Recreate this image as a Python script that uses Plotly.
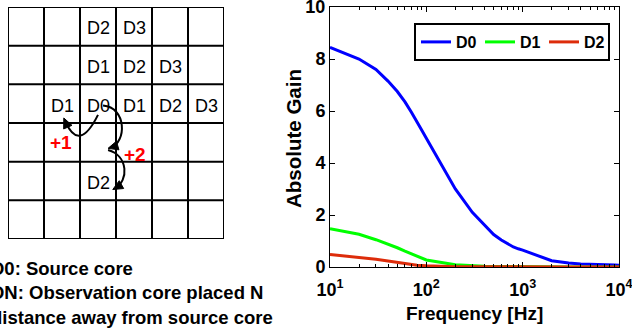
import math
import plotly.graph_objects as go

# ---------------- data ----------------
freq = [10, 20, 30, 40, 50, 60, 70, 80, 90, 100, 200, 300, 400, 500, 600, 700, 800, 900,
        1000, 2000, 3000, 4000, 5000, 6000, 7000, 8000, 9000, 10000]
gain_d0 = [8.45, 8.0, 7.6, 7.15, 6.75, 6.35, 5.95, 5.6, 5.25, 4.95, 3.0, 2.1, 1.6, 1.25, 1.04, 0.89,
           0.77, 0.7, 0.65, 0.24, 0.15, 0.12, 0.1, 0.09, 0.085, 0.08, 0.075, 0.07]
gain_d1 = [1.47, 1.26, 1.05, 0.89, 0.74, 0.61, 0.5, 0.41, 0.34, 0.27, 0.09, 0.04, 0.025, 0.018,
           0.014, 0.012, 0.01, 0.009, 0.008, 0.005, 0.004, 0.003, 0.003, 0.003, 0.003, 0.003, 0.003, 0.003]
gain_d2 = [0.48, 0.38, 0.3, 0.23, 0.17, 0.12, 0.09, 0.07, 0.055, 0.045, 0.012, 0.006, 0.004, 0.003,
           0.002, 0.002, 0.002, 0.002, 0.002, 0.001, 0.001, 0.001, 0.001, 0.001, 0.001, 0.001, 0.001, 0.001]
series_names = ["D0", "D1", "D2"]
series_colors = ["#0000FF", "#00FF00", "#DD2C0A"]

x_tickvals = [10, 100, 1000, 10000]
x_ticktext = ["10<sup>1</sup>", "10<sup>2</sup>", "10<sup>3</sup>", "10<sup>4</sup>"]
y_tickvals = [0, 2, 4, 6, 8, 10]

# diagram: 6x6 grid of cores, labels (row, col, text)
grid_n = 6
cell_labels = [(0, 2, "D2"), (0, 3, "D3"),
               (1, 2, "D1"), (1, 3, "D2"), (1, 4, "D3"),
               (2, 1, "D1"), (2, 2, "D0"), (2, 3, "D1"), (2, 4, "D2"), (2, 5, "D3"),
               (4, 2, "D2")]
step_labels = [(3.46, 1.47, "+1"), (3.75, 3.52, "+2")]
# hop arrows in grid units: svg path, arrow tip (col,row), tip direction in screen px (dx,dy)
hop_paths = [
    "M 2.5,2.79 Q 1.975,3.77 1.6,2.97",
    "M 2.64,2.55 C 3.3,2.6 3.3,3.5 2.85,3.63",
    "M 2.78,3.7 C 3.35,3.85 3.35,4.5 2.98,4.68",
]
hop_tips = [(1.55, 2.87, -0.4, -0.92), (2.78, 3.655, -0.96, 0.28), (2.91, 4.72, -0.87, 0.49)]
legend_lines = ["<b>D0: Source core</b>",
                "<b>DN: Observation core placed N</b>",
                "<b>distance away from source core</b>"]

W, H = 632, 329
def px_x(x):
    return x / W
def px_y(y):
    return 1 - y / H

FONT = "Liberation Sans, Arial, sans-serif"
CELL_W, CELL_H = 36.0, 38.7

fig = go.Figure()
for name, vals, col in zip(series_names, [gain_d0, gain_d1, gain_d2], series_colors):
    fig.add_trace(go.Scatter(x=freq, y=vals, mode="lines", name=name,
                             line=dict(color=col, width=3), xaxis="x", yaxis="y"))

shapes = []
for i in range(grid_n + 1):
    shapes.append(dict(type="line", xref="x2", yref="y2", x0=i, x1=i, y0=0, y1=grid_n,
                       line=dict(color="black", width=2)))
    shapes.append(dict(type="line", xref="x2", yref="y2", x0=0, x1=grid_n, y0=i, y1=i,
                       line=dict(color="black", width=2)))
for p in hop_paths:
    shapes.append(dict(type="path", xref="x2", yref="y2", path=p,
                       line=dict(color="black", width=2)))
for tx, ty, dx, dy in hop_tips:
    L, hw = 10.0, 4.5
    bx, by = -dx * L, -dy * L
    pxp, pyp = -dy * hw, dx * hw
    p1 = (tx + (bx + pxp) / CELL_W, ty + (by + pyp) / CELL_H)
    p2 = (tx + (bx - pxp) / CELL_W, ty + (by - pyp) / CELL_H)
    path = "M %.4f,%.4f L %.4f,%.4f L %.4f,%.4f Z" % (tx, ty, p1[0], p1[1], p2[0], p2[1])
    shapes.append(dict(type="path", xref="x2", yref="y2", path=path, fillcolor="black",
                       line=dict(color="black", width=1)))

annotations = []
for r, c, t in cell_labels:
    annotations.append(dict(x=c + 0.5, y=r + 0.5, xref="x2", yref="y2", text=t, yshift=-2,
                            showarrow=False, font=dict(family=FONT, size=18, color="black")))
for r, c, t in step_labels:
    annotations.append(dict(x=c, y=r, xref="x2", yref="y2", text="<b>%s</b>" % t, yshift=-2,
                            showarrow=False, font=dict(family=FONT, size=19, color="#FF0000")))
for i, t in enumerate(legend_lines):
    annotations.append(dict(x=0, y=px_y(268 + 24.5 * i), xref="paper", yref="paper", xshift=-11,
                            xanchor="left", yanchor="middle", text=t, showarrow=False,
                            font=dict(family=FONT, size=18.5, color="black")))
annotations.append(dict(x=px_x(293), y=px_y(139), xref="paper", yref="paper", text="<b>Absolute Gain</b>",
                        textangle=-90, showarrow=False, xanchor="center", yanchor="middle",
                        font=dict(family=FONT, size=20.5, color="black")))
annotations.append(dict(x=px_x(474), y=px_y(313), xref="paper", yref="paper", text="<b>Frequency [Hz]</b>",
                        showarrow=False, xanchor="center", yanchor="middle",
                        font=dict(family=FONT, size=19, color="black")))

minor_vals = [m * 10 ** k for k in range(1, 4) for m in range(2, 10)]

fig.update_layout(
    width=W, height=H, margin=dict(l=0, r=0, t=0, b=0, autoexpand=False),
    paper_bgcolor="white", plot_bgcolor="white",
    font=dict(family=FONT, color="black"),
    xaxis=dict(type="log", range=[1, 4], domain=[px_x(330), px_x(619)], anchor="y",
               tickvals=x_tickvals, ticktext=x_ticktext, ticks="inside", ticklen=5,
               tickcolor="black", showline=True, linecolor="black", linewidth=1, mirror="ticks",
               showgrid=False, zeroline=False, ticklabeloverflow="allow", ticklabelstandoff=6,
               automargin=False,
               tickfont=dict(family=FONT, size=18, color="black", weight="bold"),
               minor=dict(tickvals=minor_vals, ticks="inside", ticklen=3, tickcolor="black",
                          showgrid=False)),
    yaxis=dict(range=[0, 10], domain=[px_y(267), px_y(7)], anchor="x",
               tickvals=y_tickvals, ticks="inside", ticklen=5, tickcolor="black",
               showline=True, linecolor="black", linewidth=1, mirror="ticks",
               showgrid=False, zeroline=False, ticklabeloverflow="allow", automargin=False,
               tickfont=dict(family=FONT, size=18, color="black", weight="bold")),
    xaxis2=dict(range=[0, grid_n], domain=[px_x(8), px_x(224)], anchor="y2", visible=False,
                automargin=False),
    yaxis2=dict(range=[grid_n, 0], domain=[px_y(239), px_y(7)], anchor="x2", visible=False,
                automargin=False),
    shapes=shapes, annotations=annotations,
    legend=dict(orientation="h", x=px_x(610), xanchor="right", y=px_y(23), yanchor="top",
                bordercolor="black", borderwidth=2, bgcolor="white",
                font=dict(family=FONT, size=16, color="black", weight="bold"),
                itemwidth=30, entrywidth=19, entrywidthmode="pixels", tracegroupgap=0),
    showlegend=True,
)

fig.write_html("out.html")
